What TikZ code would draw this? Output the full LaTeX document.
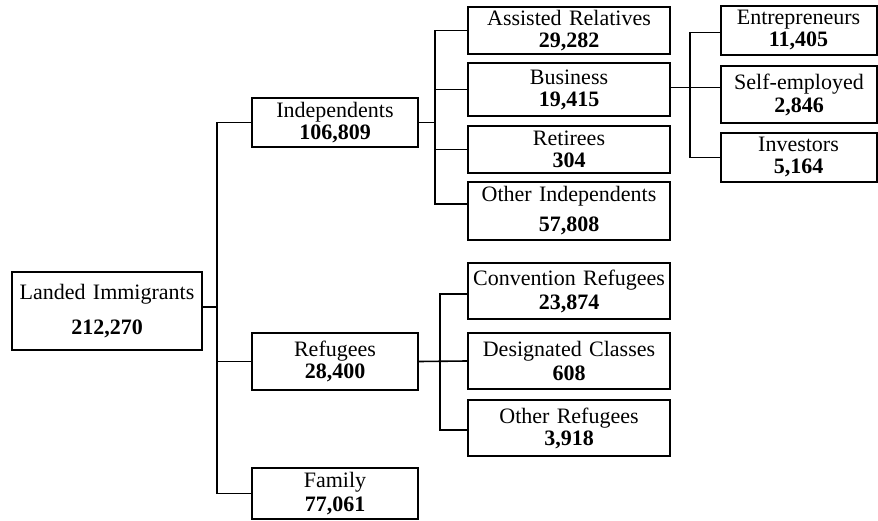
\documentclass[tikz,border=0pt]{standalone}
\usepackage{fontspec}
\setmainfont{Liberation Serif}
\usepackage{tikz}
\usetikzlibrary{calc}

\begin{document}
\begin{tikzpicture}[x=1pt, y=-1pt]
      \tikzstyle{box}=[draw, line width=2pt, inner sep=0, align=center, font=\fontsize{22}{22}\selectfont];
      \tikzstyle{mid}=[box, minimum width=166, text width=166];
      \tikzstyle{sub}=[box, minimum width=202, text width=202];
      \tikzstyle{leaf}=[box, minimum width=156, text width=156];
      \tikzstyle{link}=[line width=1.6pt];

      \useasboundingbox (0,0) rectangle (878,521);

      % boxes
      \node[box, minimum width=190, text width=190, minimum height=78] (root) at (107, 311) {Landed Immigrants\\[13pt]\textbf{212,270}};

      \node[mid, minimum height=49] (indep) at (335, 122.5) {Independents\\\textbf{106,809}};
      \node[mid, minimum height=57] (refug) at (335, 361.5) {Refugees\\\textbf{28,400}};
      \node[mid, minimum height=51] (family) at (335, 493.5) {Family\\[2pt]\textbf{77,061}};

      \node[sub, minimum height=47] (assist) at (569, 30.5) {Assisted Relatives\\\textbf{29,282}};
      \node[sub, minimum height=53] (busi) at (569, 89.5) {Business\\\textbf{19,415}};
      \node[sub, minimum height=47] (retir) at (569, 149.5) {Retirees\\\textbf{304}};
      \node[sub, minimum height=58] (othind) at (569, 211) {Other Independents\\[8pt]\textbf{57,808}};

      \node[sub, minimum height=56] (conv) at (569, 291) {Convention Refugees\\[2pt]\textbf{23,874}};
      \node[sub, minimum height=56] (desig) at (569, 361) {Designated Classes\\[2pt]\textbf{608}};
      \node[sub, minimum height=56] (othref) at (569, 428) {Other Refugees\\\textbf{3,918}};

      \node[leaf, minimum height=49] (entre) at (798.5, 30.5) {Entrepreneurs\\\textbf{11,405}};
      \node[leaf, minimum height=57] (self) at (799, 94.5) {Self-employed\\[1pt]\textbf{2,846}};
      \node[leaf, minimum height=49] (invest) at (798.5, 157.5) {Investors\\\textbf{5,164}};

      % trunks
      \coordinate (j1) at (217, 0);
      \coordinate (j2) at (435, 0);
      \coordinate (j3) at (690, 0);
      \coordinate (j4) at (440, 0);

      \draw[link] ([yshift=4pt]root.east) -- ([yshift=4pt]root.east -| j1);
      \draw[link] (indep.west) -- (indep.west -| j1) -- (family.west -| j1) -- (family.west);
      \draw[link] (refug.west) -- (refug.west -| j1);

      \draw[link] (indep.east) -- (indep.east -| j2);
      \draw[link] (assist.west) -- (assist.west -| j2) -- ([yshift=7pt]othind.west -| j2) -- ([yshift=7pt]othind.west);
      \draw[link] (busi.west) -- (busi.west -| j2);
      \draw[link] (retir.west) -- (retir.west -| j2);

      \draw[link] ([yshift=2pt]busi.east) -- ([yshift=2pt]busi.east -| self.west);
      \draw[link] ([yshift=-2pt]entre.west) -- ([yshift=-2pt]entre.west -| j3) -- (invest.west -| j3) -- (invest.west);

      \draw[link] (refug.east) -- (desig.west);
      \draw[link] ([yshift=-3pt]conv.west) -- ([yshift=-3pt]conv.west -| j4) -- ([yshift=-2pt]othref.west -| j4) -- ([yshift=-2pt]othref.west);
\end{tikzpicture}
\end{document}
